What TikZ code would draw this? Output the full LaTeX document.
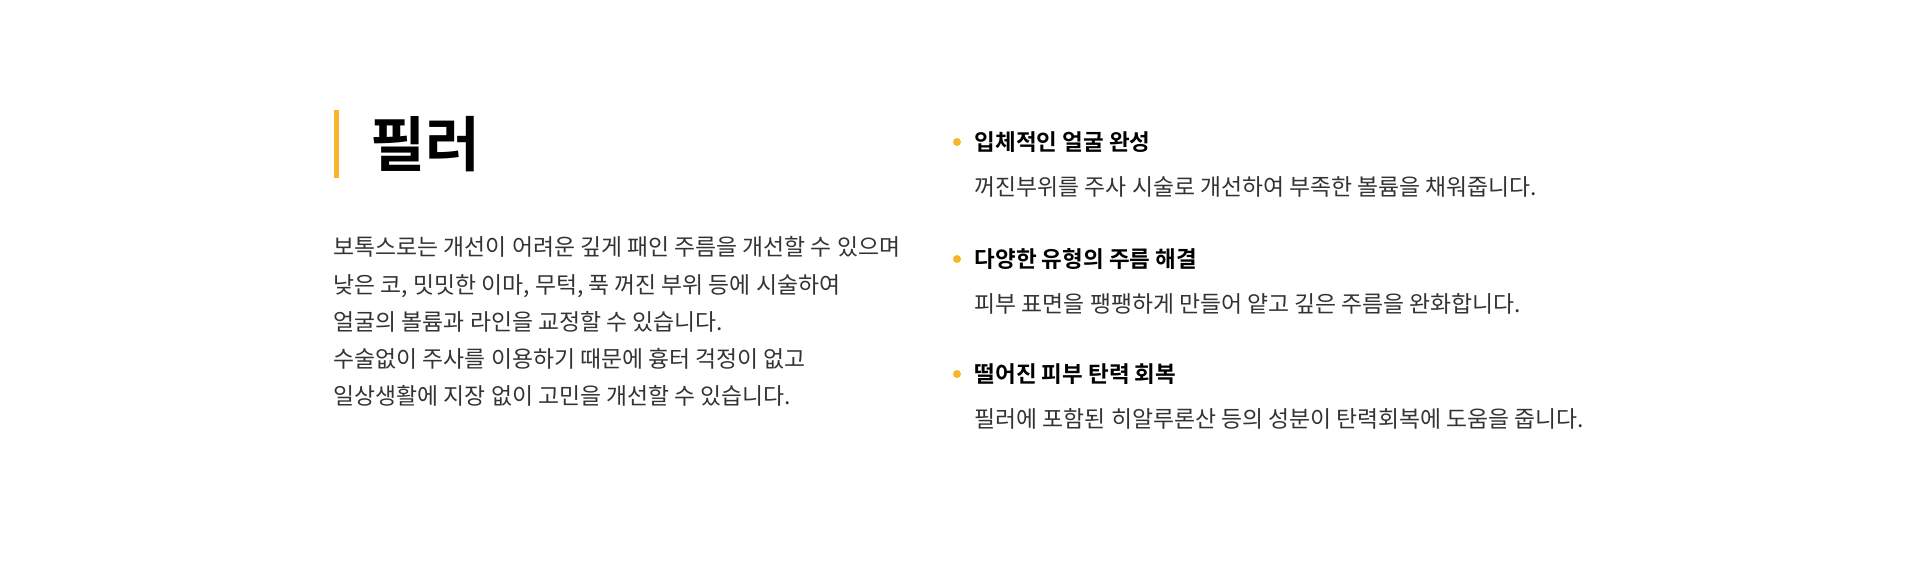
\documentclass[tikz,border=0pt]{standalone}
\usepackage{fontspec}
\newfontfamily\kr{Noto Sans CJK KR}
\newfontfamily\krb{Noto Sans CJK KR Bold}
\usetikzlibrary{positioning}
\definecolor{accent}{HTML}{F7B52C}
\definecolor{bodygray}{HTML}{333333}
\tikzset{
  bodytext/.style={anchor=west, inner sep=0pt, text=bodygray, font=\kr\fontsize{6.5pt}{10.6pt}\selectfont, align=left},
  headtext/.style={anchor=west, inner sep=0pt, text=black, font=\krb\fontsize{6.4pt}{8pt}\selectfont},
  dot/.style={circle, fill=accent, inner sep=0pt, minimum size=0.8mm}
}
\begin{document}
\begin{tikzpicture}[x=0.1mm,y=-0.1mm]
\useasboundingbox (0,0) rectangle (1920,561);
% title
\fill[accent] (334,110) rectangle (339,178);
\node[anchor=west, inner sep=0pt, font=\krb\fontsize{17pt}{20pt}\selectfont] (title) at (370,144) {필러};
% body
\node[bodytext, anchor=north west] (body) at (333,236) {보톡스로는 개선이 어려운 깊게 패인 주름을 개선할 수 있으며\\
낮은 코, 밋밋한 이마, 무턱, 푹 꺼진 부위 등에 시술하여\\
얼굴의 볼륨과 라인을 교정할 수 있습니다.\\
수술없이 주사를 이용하기 때문에 흉터 걱정이 없고\\
일상생활에 지장 없이 고민을 개선할 수 있습니다.};
% points
\foreach \i/\y/\h/\t in {1/142/입체적인 얼굴 완성/꺼진부위를 주사 시술로 개선하여 부족한 볼륨을 채워줍니다.,
  2/259/다양한 유형의 주름 해결/피부 표면을 팽팽하게 만들어 얕고 깊은 주름을 완화합니다.,
  3/374/떨어진 피부 탄력 회복/필러에 포함된 히알루론산 등의 성분이 탄력회복에 도움을 줍니다.}{
  \node[dot] (dot\i) at (957,\y) {};
  \node[headtext] (head\i) at (974,\y) {\h};
  \node[bodytext, below=3.4mm of head\i.south west, anchor=west] (desc\i) {\t};
}
\end{tikzpicture}
\end{document}
